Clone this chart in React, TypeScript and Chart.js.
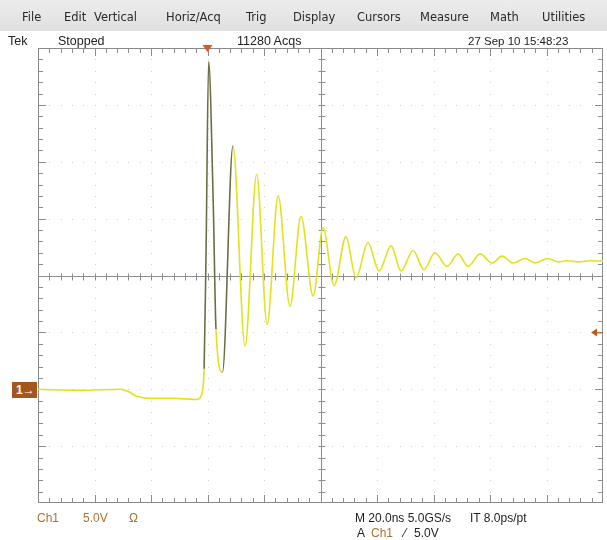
import React, { useEffect, useRef } from "react";
import { Chart, registerables } from "chart.js";

Chart.register(...registerables);

// ---- data (time in ns, Ch1 in volts) ----
const timeNs = [
  -60, -45, -31, -28, -25.3, -20.4, -11.5, -3.7, -2.3, -1.2, -0.5, 0.4, 2.0, 3.0, 5.3, 9.0,
  13.3, 17.4, 21.1, 25.0, 29.2, 33.1, 37.4, 40.9, 44.8, 49.0, 52.6, 56.8,
  60.7, 65.0, 68.5, 72.8, 76.6, 80.5, 84.8, 88.7, 92.2, 96.5, 100.7, 104.3, 108.2, 112.4, 115.9,
  120.5, 124.1, 127.6, 131.2, 135.4, 140,
];
const ch1Volts = [
  0, -0.1, 0, -0.2, -0.6, -0.8, -0.8, -0.9, -0.6, 1.8, 12.3, 28.8, 16.7, 5.3, 1.5, 21.4,
  3.8, 18.9, 5.7, 17.0, 7.3, 15.2, 8.2, 14.2, 9.1, 13.4, 9.8, 12.9,
  10.4, 12.6, 10.4, 12.2, 10.5, 12.0, 10.8, 11.9, 10.8, 11.9, 11.1, 11.7, 11.1, 11.5, 11.1,
  11.5, 11.2, 11.3, 11.2, 11.3, 11.25,
];

const nsPerDiv = 20;
const voltsPerDiv = 5;
const timeMin = -60;
const horizDivs = 10;
const voltMin = -10;
const vertDivs = 8;
const triggerTimeNs = 0;
const triggerLevelV = 5;

const menuItems = ["File", "Edit", "Vertical", "Horiz/Acq", "Trig", "Display", "Cursors", "Measure", "Math", "Utilities"];

const FONT = '"Liberation Sans", Arial, sans-serif';
const MENU_FONT = '"DejaVu Sans", Verdana, sans-serif';

const graticule = {
  id: "graticule",
  beforeDatasetsDraw(chart: any) {
    const { ctx, chartArea: a, scales } = chart;
    const xs = scales.x;
    const ys = scales.y;
    ctx.save();
    const W = a.right - a.left;
    const H = a.bottom - a.top;
    const cx = Math.round(xs.getPixelForValue(timeMin + (horizDivs / 2) * nsPerDiv)) + 0.5;
    const cy = Math.round(ys.getPixelForValue(voltMin + (vertDivs / 2) * voltsPerDiv)) + 0.5;
    // dotted grid
    ctx.fillStyle = "#cfcfcf";
    for (let i = 1; i < horizDivs; i++) {
      if (i === horizDivs / 2) continue;
      const px = Math.round(xs.getPixelForValue(timeMin + i * nsPerDiv));
      for (let j = 1; j < vertDivs * 5; j++) {
        const py = Math.round(a.top + (H * j) / (vertDivs * 5));
        ctx.fillRect(px, py, 1, 1);
      }
    }
    for (let j = 1; j < vertDivs; j++) {
      if (j === vertDivs / 2) continue;
      const py = Math.round(ys.getPixelForValue(voltMin + j * voltsPerDiv));
      for (let i = 1; i < horizDivs * 5; i++) {
        const px = Math.round(a.left + (W * i) / (horizDivs * 5));
        ctx.fillRect(px, py, 1, 1);
      }
    }
    // center cross and ticks
    ctx.strokeStyle = "#8d8d8d";
    ctx.lineWidth = 1;
    ctx.beginPath();
    ctx.moveTo(a.left, cy);
    ctx.lineTo(a.right, cy);
    ctx.moveTo(cx, a.top);
    ctx.lineTo(cx, a.bottom);
    for (let i = 1; i < horizDivs * 5; i++) {
      const px = Math.round(a.left + (W * i) / (horizDivs * 5)) + 0.5;
      const major = i % 5 === 0;
      ctx.moveTo(px, cy - 3);
      ctx.lineTo(px, cy + 4);
      ctx.moveTo(px, a.bottom);
      ctx.lineTo(px, a.bottom - (major ? 8 : 5));
      ctx.moveTo(px, a.top);
      ctx.lineTo(px, a.top + (major ? 8 : 5));
    }
    for (let j = 1; j < vertDivs * 5; j++) {
      const py = Math.round(a.top + (H * j) / (vertDivs * 5)) + 0.5;
      const major = j % 5 === 0;
      ctx.moveTo(cx - 3, py);
      ctx.lineTo(cx + 4, py);
      ctx.moveTo(a.left, py);
      ctx.lineTo(a.left + (major ? 8 : 5), py);
      ctx.moveTo(a.right, py);
      ctx.lineTo(a.right - (major ? 8 : 5), py);
    }
    ctx.stroke();
    // border
    ctx.strokeStyle = "#8a8a8a";
    ctx.strokeRect(Math.round(a.left) + 0.5, Math.round(a.top) + 0.5, Math.round(W) - 1, Math.round(H) - 1);
    ctx.restore();
  },
  afterDatasetsDraw(chart: any) {
    const { ctx, chartArea: a, scales } = chart;
    ctx.save();
    // trigger position marker (top)
    const tx = scales.x.getPixelForValue(triggerTimeNs);
    ctx.fillStyle = "#e0561e";
    ctx.beginPath();
    ctx.moveTo(tx - 5, a.top - 3);
    ctx.lineTo(tx + 5, a.top - 3);
    ctx.lineTo(tx, a.top + 4);
    ctx.closePath();
    ctx.fill();
    // trigger level marker (right)
    const ty = scales.y.getPixelForValue(triggerLevelV);
    ctx.fillStyle = "#c0581c";
    ctx.beginPath();
    ctx.moveTo(a.right - 12, ty);
    ctx.lineTo(a.right - 6, ty - 4);
    ctx.lineTo(a.right - 6, ty + 4);
    ctx.closePath();
    ctx.fill();
    ctx.strokeStyle = "#c0581c";
    ctx.beginPath();
    ctx.moveTo(a.right - 7, ty + 0.5);
    ctx.lineTo(a.right, ty + 0.5);
    ctx.stroke();
    ctx.restore();
  },
};

export default function App() {
  const ref = useRef<HTMLCanvasElement>(null);
  useEffect(() => {
    const canvas = ref.current!;
    const data = timeNs.map((t, i) => ({ x: t, y: ch1Volts[i] }));
    const chart = new Chart(canvas, {
      type: "line",
      data: {
        datasets: [
          {
            data,
            borderColor: "#e2e21c",
            borderWidth: 1.6,
            pointRadius: 0,
            cubicInterpolationMode: "monotone",
            segment: {
              borderColor: (c: any) => {
                const dy = Math.abs(c.p1.parsed.y - c.p0.parsed.y);
                const dx = Math.abs(c.p1.parsed.x - c.p0.parsed.x) || 0.001;
                return dy > 10 && dy / dx > 5 ? "#6e6e45" : undefined;
              },
            },
          },
        ],
      },
      options: {
        responsive: false,
        animation: false,
        devicePixelRatio: 1,
        layout: { padding: { left: 38, right: 4, top: 48, bottom: 37 } },
        plugins: { legend: { display: false }, tooltip: { enabled: false } },
        scales: {
          x: { type: "linear", min: timeMin, max: timeMin + horizDivs * nsPerDiv, display: false },
          y: { type: "linear", min: voltMin, max: voltMin + vertDivs * voltsPerDiv, display: false },
        },
      },
      plugins: [graticule],
    } as any);
    return () => chart.destroy();
  }, []);

  const menuPos = [22, 64, 94, 166, 246, 293, 357, 420, 490, 542];
  const txt = (s: any, left: number, top: number, extra: any = {}) => (
    <div style={{ position: "absolute", left, top, fontSize: 12, fontFamily: FONT, color: "#222", whiteSpace: "nowrap", lineHeight: "14px", ...extra }}>{s}</div>
  );
  const brown = "#a8732c";
  return (
    <div style={{ position: "fixed", left: 0, top: 0, width: 607, height: 540, background: "#fff", overflow: "hidden" }}>
      <div style={{ position: "absolute", left: 0, top: 0, width: 607, height: 31, background: "linear-gradient(#ececec, #e0e0e0)" }} />
      <canvas ref={ref} width={607} height={540} style={{ position: "absolute", left: 0, top: 0 }} />
      {menuItems.map((m, i) => (
        <div key={m} style={{ position: "absolute", left: menuPos[i], top: 10, fontSize: 11.5, fontFamily: MENU_FONT, color: "#2a2a2a", whiteSpace: "nowrap", lineHeight: "14px" }}>{m}</div>
      ))}
      {txt("Tek", 8, 34, { fontSize: 12.5 })}
      {txt("Stopped", 58, 34, { fontSize: 12.5 })}
      {txt("11280 Acqs", 237, 34, { fontSize: 12.5 })}
      {txt("27 Sep 10 15:48:23", 468, 34, { fontSize: 11.5 })}
      <div style={{ position: "absolute", left: 12, top: 382, width: 25, height: 16, background: "#a4561c", color: "#fff", fontFamily: FONT, fontSize: 12, fontWeight: "bold", lineHeight: "16px", paddingLeft: 4, boxSizing: "border-box" }}>1→</div>
      {txt("Ch1", 37, 511, { color: brown })}
      {txt("5.0V", 83, 511, { color: brown })}
      {txt("Ω", 129, 511, { color: brown })}
      {txt("M 20.0ns 5.0GS/s", 355, 511)}
      {txt("IT 8.0ps/pt", 470, 511)}
      {txt("A", 357, 526)}
      {txt("Ch1", 371, 526, { color: brown })}
      {txt("⁄", 404, 526)}
      {txt("5.0V", 414, 526)}
    </div>
  );
}
